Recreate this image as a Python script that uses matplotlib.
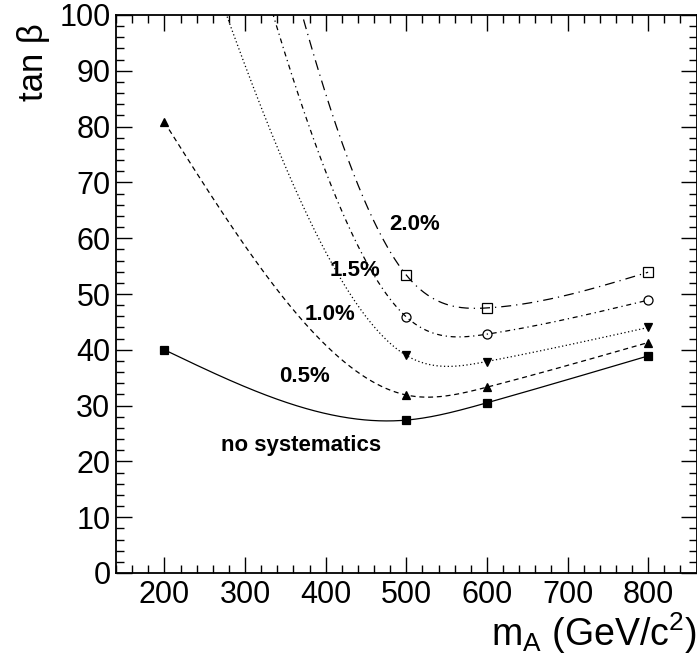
import numpy as np
import matplotlib
matplotlib.use("Agg")
import matplotlib.pyplot as plt
from matplotlib.ticker import MultipleLocator

plt.rcParams['font.family'] = ['Liberation Sans', 'DejaVu Sans']
plt.rcParams['mathtext.fontset'] = 'custom'
plt.rcParams['mathtext.rm'] = 'Liberation Sans'
plt.rcParams['mathtext.it'] = 'Liberation Sans'
plt.rcParams['mathtext.default'] = 'regular'

# data
mass = [200, 500, 600, 800]
nosys = [40.0, 27.4, 30.5, 38.9]
sys05 = [80.8, 31.9, 33.3, 41.3]
sys10 = [131.9, 39.0, 37.9, 44.0]
sys15 = [172.9, 45.9, 42.8, 48.9]
sys20 = [206.7, 53.4, 47.5, 53.9]
labels = ["no systematics", "0.5%", "1.0%", "1.5%", "2.0%"]


def natural_spline(x, y, xs):
    x = np.asarray(x, float)
    y = np.asarray(y, float)
    n = len(x)
    h = np.diff(x)
    A = np.zeros((n, n))
    r = np.zeros(n)
    A[0, 0] = 1.0
    A[-1, -1] = 1.0
    for i in range(1, n - 1):
        A[i, i - 1] = h[i - 1]
        A[i, i] = 2 * (h[i - 1] + h[i])
        A[i, i + 1] = h[i]
        r[i] = 6 * ((y[i + 1] - y[i]) / h[i] - (y[i] - y[i - 1]) / h[i - 1])
    M = np.linalg.solve(A, r)
    xs = np.asarray(xs, float)
    idx = np.clip(np.searchsorted(x, xs) - 1, 0, n - 2)
    x0, x1 = x[idx], x[idx + 1]
    hh = x1 - x0
    out = (M[idx] * (x1 - xs) ** 3 / (6 * hh) + M[idx + 1] * (xs - x0) ** 3 / (6 * hh)
           + (y[idx] / hh - M[idx] * hh / 6) * (x1 - xs)
           + (y[idx + 1] / hh - M[idx + 1] * hh / 6) * (xs - x0))
    return out


fig = plt.figure(figsize=(6.97, 6.64), dpi=100)
ax = fig.add_axes([116 / 697, 91 / 664, 580.5 / 697, 558 / 664])

series = [
    (nosys, 's', 'k', '-'),
    (sys05, '^', 'k', (0, (4, 3))),
    (sys10, 'v', 'k', (0, (1, 2))),
    (sys15, 'o', 'none', (0, (4, 3, 1, 3))),
    (sys20, 's', 'none', (0, (8, 4, 1, 4))),
]
xs = np.linspace(mass[0], mass[-1], 400)
for vals, mk, fc, ls in series:
    ys = natural_spline(mass, vals, xs)
    ax.plot(xs, ys, color='k', lw=0.9, linestyle=ls)
    ax.plot(mass, vals, linestyle='none', marker=mk, markersize=6 if fc == 'k' else 6.5,
            markerfacecolor=fc, markeredgecolor='k', markeredgewidth=0.9)

text_pos = [(369, 22.8), (374, 35.3), (405, 46.4), (436, 54.2), (510, 62.4)]
for lab, (tx, ty) in zip(labels, text_pos):
    ax.text(tx, ty, lab, fontsize=16, fontweight='bold', ha='center', va='center')

ax.set_xlim(140, 860)
ax.set_ylim(0, 100)
ax.xaxis.set_major_locator(MultipleLocator(100))
ax.xaxis.set_minor_locator(MultipleLocator(20))
ax.yaxis.set_major_locator(MultipleLocator(10))
ax.yaxis.set_minor_locator(MultipleLocator(2))
ax.tick_params(which='both', direction='in', top=True, right=True, width=1.0)
ax.tick_params(which='major', length=11.5)
ax.tick_params(which='minor', length=5.8)
ax.tick_params(axis='x', which='major', labelsize=22, pad=5)
ax.tick_params(axis='y', which='major', labelsize=22, pad=4)
xt = [200, 300, 400, 500, 600, 700, 800]
ax.set_xticks(xt)
ax.set_xticklabels([str(v) for v in xt])
for s in ax.spines.values():
    s.set_linewidth(1.3)

ax.set_xlabel('m$_{A}$ (GeV/c$^{2}$)', fontsize=27, loc='right')
ax.xaxis.set_label_coords(1.0, -0.067)
ax.set_ylabel('tan β', fontsize=25, loc='top')
ax.yaxis.set_label_coords(-0.114, 0.986)

fig.savefig('out.png', dpi=100)
